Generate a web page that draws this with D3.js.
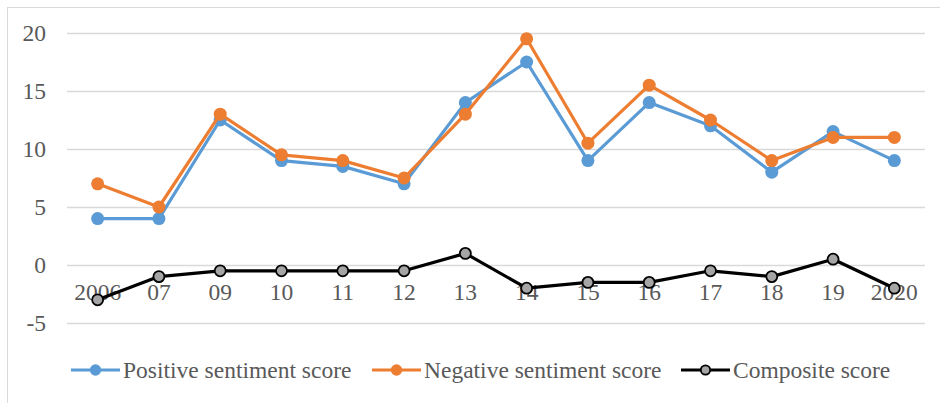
<!DOCTYPE html>
<html>
<head>
<meta charset="utf-8">
<script src="https://cdn.jsdelivr.net/npm/d3@7"></script>
<style>
  body { margin: 0; background: #fff; }
  svg { display: block; }
</style>
</head>
<body>
<div id="chart"></div>
<script>
// data
const years = ["2006", "07", "09", "10", "11", "12", "13", "14", "15", "16", "17", "18", "19", "2020"];
const positiveScores = [4, 4, 12.5, 9, 8.5, 7, 14, 17.5, 9, 14, 12, 8, 11.5, 9];
const negativeScores = [7, 5, 13, 9.5, 9, 7.5, 13, 19.5, 10.5, 15.5, 12.5, 9, 11, 11];
const compositeScores = [-3, -1, -0.5, -0.5, -0.5, -0.5, 1, -2, -1.5, -1.5, -0.5, -1, 0.5, -2];
const yTicks = [-5, 0, 5, 10, 15, 20];

const seriesList = [
    { name: "Positive sentiment score", values: positiveScores, color: "#5B9BD5", fill: "#5B9BD5", stroke: "none", r: 6.5 },
    { name: "Negative sentiment score", values: negativeScores, color: "#ED7D31", fill: "#ED7D31", stroke: "none", r: 6.5 },
    { name: "Composite score", values: compositeScores, color: "#000000", fill: "#A5A5A5", stroke: "#000000", r: 5.5 }
];

const W = 940, H = 403;
const FONT = "'Liberation Serif', 'Times New Roman', serif";
const FONT_SIZE = 23.5;
const TEXT_COLOR = "#595959";

const svg = d3.select("#chart").append("svg")
    .attr("width", W)
    .attr("height", H);

// outer frame
svg.append("rect")
    .attr("x", 7.5).attr("y", 7.5)
    .attr("width", W).attr("height", H)
    .attr("fill", "none")
    .attr("stroke", "#d9d9d9");

const x = d3.scaleBand()
    .domain(years)
    .range([67, 925])
    .padding(0);

const y = d3.scaleLinear()
    .domain([-5, 20])
    .range([323, 33]);

// gridlines + y labels
const yAxis = svg.append("g")
    .attr("transform", "translate(67,0)")
    .call(d3.axisLeft(y)
        .tickValues(yTicks)
        .tickSize(-(925 - 67))
        .tickPadding(21)
        .tickFormat(d => String(d)));

yAxis.select("path.domain").remove();
yAxis.selectAll("line")
    .attr("stroke", "#d9d9d9")
    .attr("stroke-width", 1.3);
yAxis.selectAll("text")
    .attr("font-family", FONT)
    .attr("font-size", FONT_SIZE)
    .attr("fill", TEXT_COLOR);

// category labels sit on the zero line
const xAxis = svg.append("g")
    .attr("transform", "translate(0," + y(0) + ")")
    .call(d3.axisBottom(x).tickSize(0).tickPadding(18));

xAxis.select("path.domain").remove();
xAxis.selectAll("text")
    .attr("font-family", FONT)
    .attr("font-size", FONT_SIZE)
    .attr("fill", TEXT_COLOR);

const cx = d => x(d) + x.bandwidth() / 2;

const line = d3.line()
    .x((d, i) => cx(years[i]))
    .y(d => y(d));

seriesList.forEach(s => {
    const g = svg.append("g");
    g.append("path")
        .datum(s.values)
        .attr("fill", "none")
        .attr("stroke", s.color)
        .attr("stroke-width", 3.2)
        .attr("stroke-linejoin", "round")
        .attr("d", line);

    g.selectAll("circle")
        .data(s.values)
        .join("circle")
        .attr("cx", (d, i) => cx(years[i]))
        .attr("cy", d => y(d))
        .attr("r", s.r)
        .attr("fill", s.fill)
        .attr("stroke", s.stroke)
        .attr("stroke-width", 1.8);
});

// legend
const legendPos = [71, 372, 681];
const legend = svg.append("g")
    .attr("transform", "translate(0,370)");

seriesList.forEach((s, i) => {
    const lg = legend.append("g")
        .attr("transform", "translate(" + legendPos[i] + ",0)");
    lg.append("line")
        .attr("x1", 0).attr("x2", 49)
        .attr("y1", 0).attr("y2", 0)
        .attr("stroke", s.color)
        .attr("stroke-width", 3.2);
    lg.append("circle")
        .attr("cx", 24.5).attr("cy", 0)
        .attr("r", s.r - 0.8)
        .attr("fill", s.fill)
        .attr("stroke", s.stroke)
        .attr("stroke-width", 1.8);
    lg.append("text")
        .attr("x", 52)
        .attr("y", 0)
        .attr("dy", "0.33em")
        .attr("font-family", FONT)
        .attr("font-size", FONT_SIZE)
        .attr("fill", TEXT_COLOR)
        .text(s.name);
});
</script>
</body>
</html>
